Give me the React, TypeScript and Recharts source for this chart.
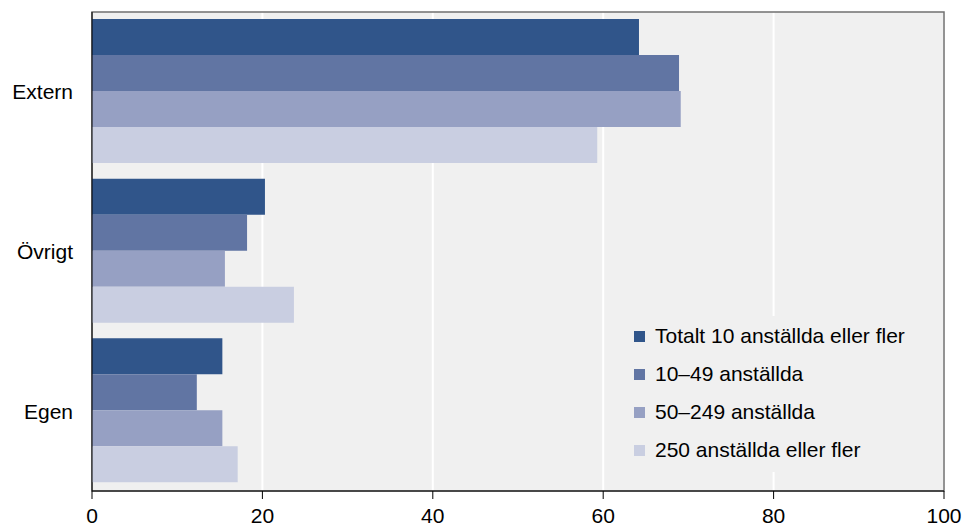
import { Bar, BarChart, CartesianGrid, Legend, ReferenceArea, XAxis, YAxis } from "recharts"

const categories = ["Extern", "Övrigt", "Egen"]
const totalt = [64.2, 20.3, 15.3]
const small = [68.9, 18.2, 12.3]
const medium = [69.1, 15.6, 15.3]
const large = [59.3, 23.7, 17.1]
const xTicks = [0, 20, 40, 60, 80, 100]

const series = [
  { key: "totalt", name: "Totalt 10 anställda eller fler", color: "#30558a" },
  { key: "small", name: "10–49 anställda", color: "#6175a3" },
  { key: "medium", name: "50–249 anställda", color: "#96a0c3" },
  { key: "large", name: "250 anställda eller fler", color: "#c9cee1" },
]

const data = categories.map((name, i) => ({
  name,
  totalt: totalt[i],
  small: small[i],
  medium: medium[i],
  large: large[i],
}))

const FONT = "'Liberation Sans', Arial, sans-serif"

function LegendBox() {
  return (
    <div style={{ fontFamily: FONT, fontSize: 21, color: "#000", padding: "1px 0 0 24px" }}>
      {series.map((s) => (
        <div key={s.key} style={{ display: "flex", alignItems: "center", height: 38 }}>
          <span style={{ width: 11, height: 11, background: s.color, marginRight: 10 }} />
          <span>{s.name}</span>
        </div>
      ))}
    </div>
  )
}

export default function App() {
  return (
    <div style={{ position: "absolute", left: 0, top: 0, background: "#fff" }}>
      <BarChart
        width={966}
        height={528}
        data={data}
        layout="vertical"
        margin={{ top: 12, right: 22, left: 0, bottom: 0 }}
        barCategoryGap={7}
        barGap={0}
      >
        <CartesianGrid horizontal={false} stroke="#ffffff" strokeWidth={2} fill="#f0f0f0" />
        <ReferenceArea x1={0} x2={100} fill="none" stroke="#707070" strokeWidth={1.5} />
        <XAxis
          type="number"
          domain={[0, 100]}
          ticks={xTicks}
          height={37}
          tickSize={8}
          tickMargin={9}
          axisLine={{ stroke: "#000" }}
          tickLine={{ stroke: "#000" }}
          tick={{ fill: "#000", fontSize: 21, fontFamily: FONT }}
        />
        <YAxis
          type="category"
          dataKey="name"
          width={92}
          tickLine={false}
          tickMargin={13}
          axisLine={{ stroke: "#000" }}
          tick={{ fill: "#000", fontSize: 21, fontFamily: FONT }}
        />
        <Legend
          layout="vertical"
          align="center"
          verticalAlign="middle"
          content={() => <LegendBox />}
          wrapperStyle={{ left: 610, top: 316, width: 325, height: 156, background: "#f0f0f0" }}
        />
        {series.map((s) => (
          <Bar key={s.key} dataKey={s.key} name={s.name} fill={s.color} isAnimationActive={false} />
        ))}
      </BarChart>
    </div>
  )
}
